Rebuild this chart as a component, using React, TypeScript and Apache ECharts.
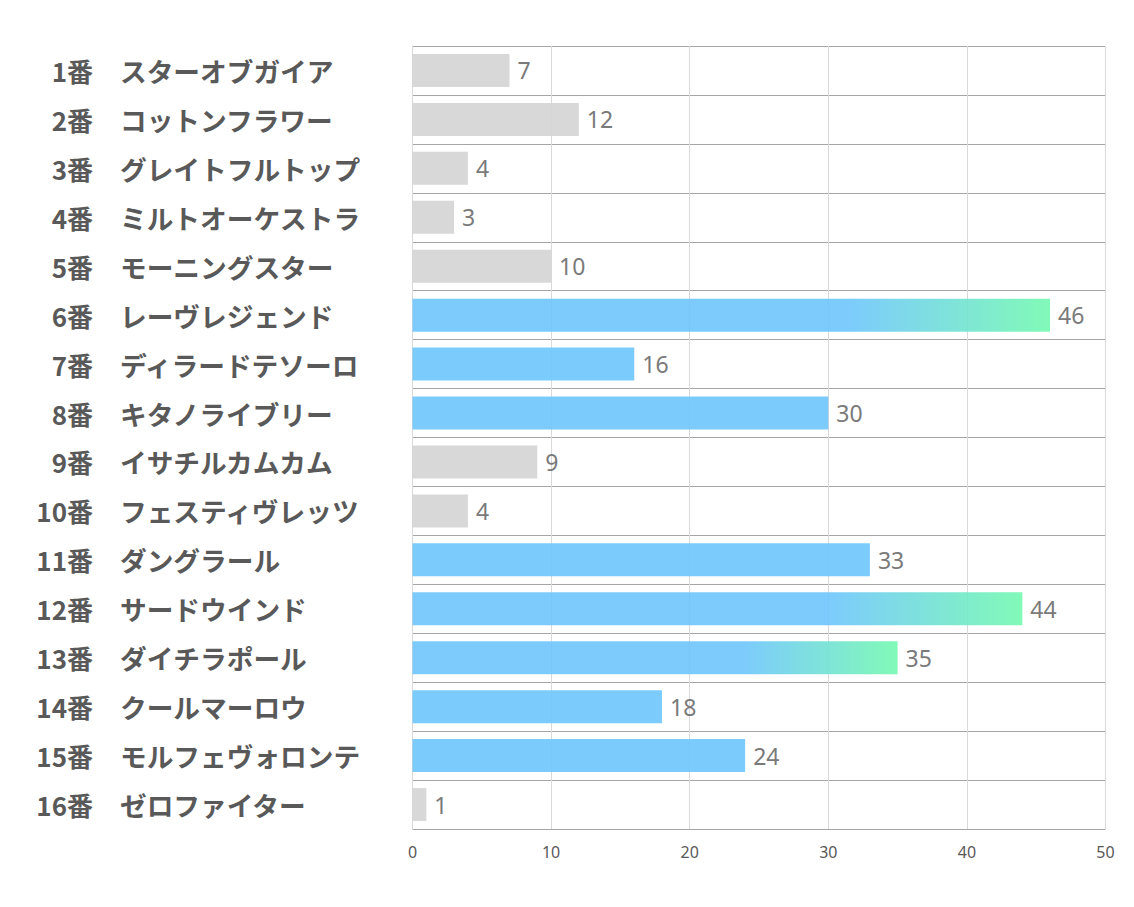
import React, { useEffect, useRef } from "react";
import * as echarts from "echarts";

const horseNumbers = ["1番", "2番", "3番", "4番", "5番", "6番", "7番", "8番", "9番", "10番", "11番", "12番", "13番", "14番", "15番", "16番"];
const horseNames = [
  "スターオブガイア",
  "コットンフラワー",
  "グレイトフルトップ",
  "ミルトオーケストラ",
  "モーニングスター",
  "レーヴレジェンド",
  "ディラードテソーロ",
  "キタノライブリー",
  "イサチルカムカム",
  "フェスティヴレッツ",
  "ダングラール",
  "サードウインド",
  "ダイチラポール",
  "クールマーロウ",
  "モルフェヴォロンテ",
  "ゼロファイター",
];
const scores = [7, 12, 4, 3, 10, 46, 16, 30, 9, 4, 33, 44, 35, 18, 24, 1];
const xTicks = [0, 10, 20, 30, 40, 50];

const GRAY = "rgba(212,212,212,0.9)";
const BLUE = "rgba(110,197,253,0.9)";
const GREEN = "rgba(115,249,176,0.9)";

const labelFont = {
  fontWeight: "bold",
  color: "#595959",
  fontFamily: "'Noto Sans CJK JP', sans-serif",
  padding: [0, 0, 4, 0],
};

export default function App() {
  const ref = useRef<HTMLDivElement>(null);
  useEffect(() => {
    if (!ref.current) return;
    const chart = echarts.init(ref.current, null, { renderer: "svg" });
    const sorted = [...scores].sort((a, b) => b - a);
    const data = scores.map((v) => {
      const rank = sorted.indexOf(v);
      let color: any = GRAY;
      if (rank < 3) {
        color = new echarts.graphic.LinearGradient(0, 0, 1, 0, [
          { offset: 0, color: BLUE },
          { offset: 0.68, color: BLUE },
          { offset: 1, color: GREEN },
        ]);
      } else if (rank < 8) {
        color = BLUE;
      }
      return { value: v, itemStyle: { color } };
    });
    const gridLeft = 412.5;
    chart.setOption({
      animation: false,
      backgroundColor: "#ffffff",
      grid: { left: gridLeft, right: 28.5, top: 46, bottom: 78, containLabel: false },
      xAxis: {
        type: "value",
        min: xTicks[0],
        max: xTicks[xTicks.length - 1],
        interval: 10,
        axisLine: { show: false },
        axisTick: { show: false },
        axisLabel: {
          fontSize: 16,
          color: "#595959",
          margin: 15,
          fontFamily: "'Liberation Sans Narrow', 'Noto Sans', sans-serif",
        },
        splitLine: { show: true, lineStyle: { color: "#d9d9d9", width: 1 } },
      },
      yAxis: [
        {
          type: "category",
          inverse: true,
          data: horseNumbers,
          axisLine: { show: true, lineStyle: { color: "#d9d9d9" } },
          axisTick: { show: false },
          splitLine: { show: true, interval: 0, lineStyle: { color: "#a6a6a6", width: 1 } },
          axisLabel: {
            ...labelFont,
            fontSize: 26,
            margin: gridLeft - 93,
            interval: 0,
            align: "right",
          },
        },
        {
          type: "category",
          inverse: true,
          position: "left",
          data: horseNames,
          axisLine: { show: false },
          axisTick: { show: false },
          splitLine: { show: false },
          axisLabel: {
            ...labelFont,
            fontSize: 26.7,
            margin: gridLeft - 120,
            interval: 0,
            align: "left",
          },
        },
      ],
      series: [
        {
          type: "bar",
          yAxisIndex: 0,
          data,
          barWidth: 33,
          label: {
            show: true,
            position: "right",
            distance: 8,
            fontSize: 23,
            color: "#7a7a7a",
            fontFamily: "'Noto Sans', sans-serif",
          },
        },
      ],
    });
    return () => chart.dispose();
  }, []);
  return (
    <div
      ref={ref}
      style={{ position: "fixed", left: 0, top: 0, width: 1134, height: 907, background: "#fff" }}
    />
  );
}
